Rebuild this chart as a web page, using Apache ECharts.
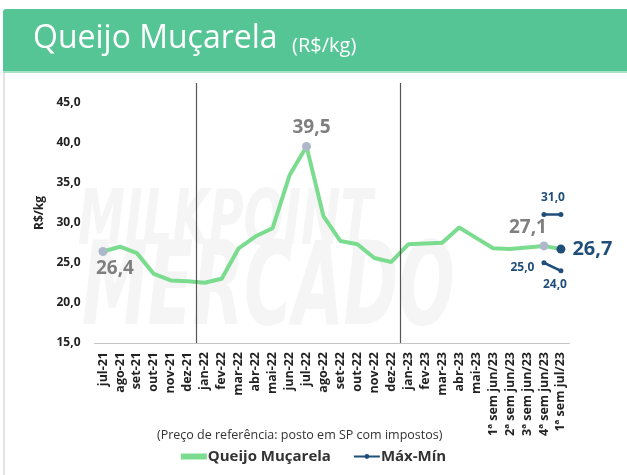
<!DOCTYPE html>
<html>
<head>
<meta charset="utf-8">
<style>
  html, body { margin: 0; padding: 0; background: #fff; }
  #chart { width: 627px; height: 475px; }
</style>
</head>
<body>
<div id="chart"></div>
<script src="https://cdn.jsdelivr.net/npm/echarts@6/dist/echarts.min.js"></script>
<script>
// categorias (meses + semanas)
var categories = ['jul-21', 'ago-21', 'set-21', 'out-21', 'nov-21', 'dez-21',
  'jan-22', 'fev-22', 'mar-22', 'abr-22', 'mai-22', 'jun-22', 'jul-22', 'ago-22',
  'set-22', 'out-22', 'nov-22', 'dez-22', 'jan-23', 'fev-23', 'mar-23', 'abr-23',
  'mai-23', '1ª sem jun/23', '2ª sem jun/23', '3ª sem jun/23', '4ª sem jun/23', '1ª sem jul/23'];
// preço médio
var precos = [26.4, 27.0, 26.2, 23.6, 22.8, 22.7, 22.5, 23.0, 26.8, 28.3, 29.3, 35.9,
  39.5, 30.8, 27.7, 27.3, 25.6, 25.1, 27.3, 27.4, 27.5, 29.4, 28.1, 26.8, 26.7, 26.9, 27.1, 26.7];
// máximo / mínimo das duas últimas semanas
var maxCats = ['4ª sem jun/23', '1ª sem jul/23'];
var maxVals = [31.0, 31.0];
var minVals = [25.0, 24.0];
var yTicks = [15, 20, 25, 30, 35, 40, 45];
// divisórias de ano (posição = nº de categorias antes)
var divisorias = [6, 18];

var fmt = function (v) { return v.toFixed(1).replace('.', ','); };
var verde = '#7bdc8f';
var azul = '#1f4e79';
var cinza = '#7f7f7f';

// pontos destacados no gráfico
var destaque = {
  0: { position: 'bottom', offset: [12, -2] },
  12: { position: 'top', offset: [5, 0] },
  26: { position: 'top', offset: [-16, 1] }
};
var serieDados = precos.map(function (v, i) {
  var item = { value: v };
  if (destaque[i]) {
    item.symbolSize = 9;
    item.itemStyle = { color: '#adb9ca' };
    item.label = {
      show: true, position: destaque[i].position, offset: destaque[i].offset,
      color: cinza, fontSize: 19, fontWeight: 'bold',
      formatter: function (p) { return fmt(p.value); }
    };
  }
  if (i === precos.length - 1) {
    item.symbolSize = 9;
    item.itemStyle = { color: azul };
    item.label = {
      show: true, position: 'right', offset: [2, 0],
      color: azul, fontSize: 20, fontWeight: 'bold',
      formatter: function (p) { return fmt(p.value); }
    };
  }
  return item;
});

function pad(vals, labels) {
  var out = categories.map(function () { return '-'; });
  vals.forEach(function (v, k) { out[categories.indexOf(maxCats[k])] = labels[k] ? { value: v, label: labels[k] } : v; });
  return out;
}
var lblBase = { show: true, color: azul, fontSize: 12, fontWeight: 'bold', formatter: function (p) { return fmt(p.value); } };
var maxData = pad(maxVals, [Object.assign({ position: 'top', offset: [9, -4] }, lblBase), null]);
var minData = pad(minVals, [Object.assign({ position: 'left', offset: [-2, 5] }, lblBase),
  Object.assign({ position: 'bottom', offset: [-6, 0] }, lblBase)]);

var chart = echarts.init(document.getElementById('chart'));
var option = {
  backgroundColor: '#fff',
  textStyle: { fontFamily: '"Open Sans", sans-serif' },
  animation: false,
  graphic: [
    { type: 'rect', left: 3, top: 9, shape: { width: 624, height: 62, r: [3, 0, 0, 0] }, style: { fill: '#56c596' }, z: 1 },
    { type: 'rect', left: 3, top: 71, shape: { width: 624, height: 2 }, style: { fill: '#a8e2c6' }, z: 1 },
    { type: 'rect', left: 3, top: 73, shape: { width: 2, height: 402 }, style: { fill: '#e2e2e2' }, z: 1 },
    { type: 'text', left: 33, top: 23, z: 2, style: { text: 'Queijo Muçarela', fill: '#fff', font: '32px "Open Sans"' } },
    { type: 'text', left: 292, top: 36, z: 2, style: { text: '(R$/kg)', fill: '#fff', font: '20px "Open Sans"' } },
    { type: 'text', x: 78, y: 186, scaleX: 0.62, z: 0, style: { text: 'MILKPOINT', fill: '#f5f5f5', font: 'italic bold 76px "DejaVu Sans"' } },
    { type: 'text', x: 82, y: 236, scaleX: 0.57, z: 0, style: { text: 'MERCADO', fill: '#f5f5f5', font: 'italic bold 116px "DejaVu Sans"' } },
    { type: 'text', left: 157, top: 429, z: 2, style: { text: '(Preço de referência: posto em SP com impostos)', fill: '#333', font: '12.5px "Open Sans"' } }
  ],
  legend: {
    top: 444, left: 'center',
    itemGap: 22, itemWidth: 26, itemHeight: 6,
    textStyle: { fontSize: 15, fontWeight: 'bold', color: '#333', padding: [0, 0, 0, -4] },
    data: [{ name: 'Queijo Muçarela', icon: 'rect' }, { name: 'Máx-Mín' }]
  },
  grid: { left: 94.5, right: 57.6, top: 83, bottom: 132 },
  xAxis: [{
    type: 'category',
    data: categories,
    axisLine: { lineStyle: { color: '#c4c4c4', width: 1 } },
    axisTick: { show: false },
    axisLabel: { rotate: 90, interval: 0, color: '#222', fontSize: 12.5, fontWeight: 'bold', margin: 9 }
  }, {
    // eixo auxiliar só para posicionar as divisórias entre categorias
    type: 'value', min: 0, max: categories.length, show: false
  }],
  yAxis: {
    type: 'value', min: 15, max: 47.4, interval: 5,
    name: 'R$/kg', nameLocation: 'middle', nameGap: 30, nameRotate: 90,
    nameTextStyle: { fontSize: 12, fontWeight: 'bold', color: '#222' },
    axisLine: { show: false }, axisTick: { show: false },
    splitLine: { show: false },
    axisLabel: {
      showMaxLabel: false, margin: 14, fontSize: 12, fontWeight: 'bold', color: '#222',
      formatter: function (v) { return yTicks.indexOf(v) >= 0 ? fmt(v) : ''; }
    }
  },
  series: [
    {
      name: 'Queijo Muçarela', type: 'line', data: serieDados,
      symbol: 'circle', symbolSize: 0, showSymbol: true,
      itemStyle: { color: verde },
      lineStyle: { color: verde, width: 4 },
      z: 3
    },
    {
      name: 'Máx-Mín', type: 'line', data: maxData,
      symbol: 'circle', symbolSize: 5,
      itemStyle: { color: azul }, lineStyle: { color: azul, width: 2.5 }, z: 4
    },
    {
      name: 'Máx-Mín', type: 'line', data: minData,
      symbol: 'circle', symbolSize: 5,
      itemStyle: { color: azul }, lineStyle: { color: azul, width: 2.5 }, z: 4
    },
    {
      name: 'divisorias', type: 'line', xAxisIndex: 1, data: [],
      markLine: {
        silent: true, symbol: 'none', label: { show: false },
        lineStyle: { color: '#555', width: 1.2, type: 'solid' },
        data: divisorias.map(function (d) { return { xAxis: d }; })
      }
    }
  ]
};
chart.setOption(option);
</script>
</body>
</html>
